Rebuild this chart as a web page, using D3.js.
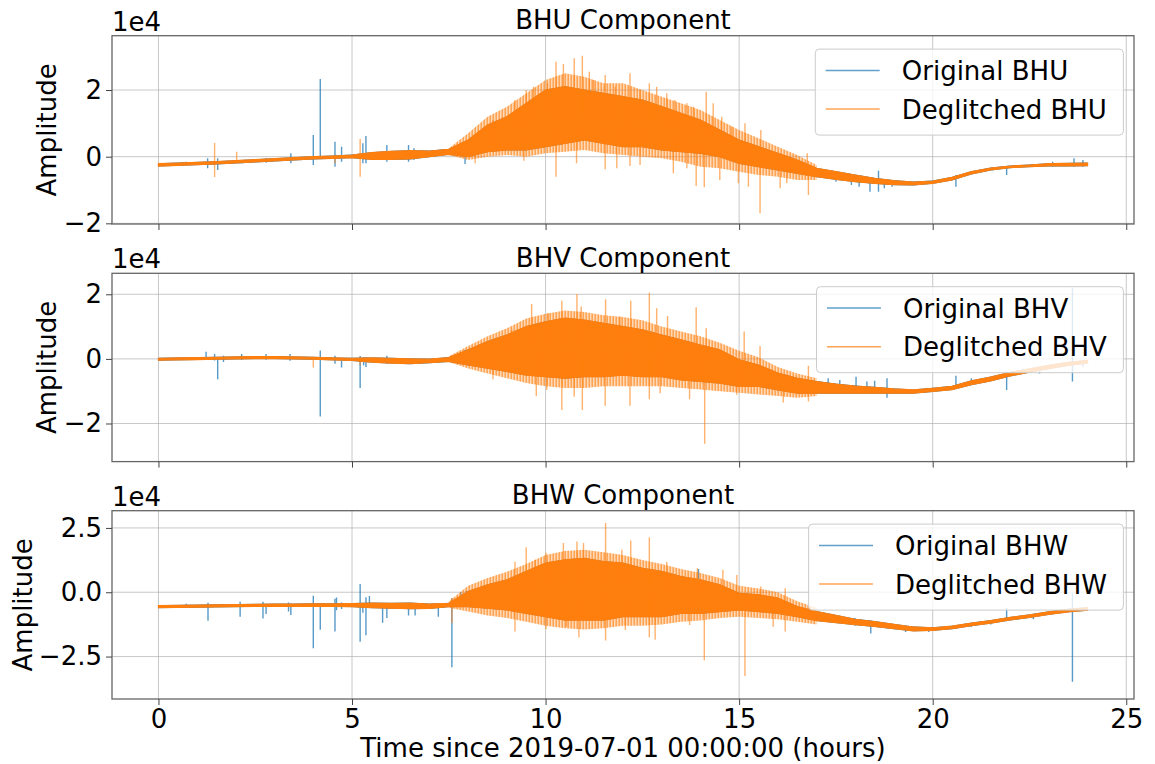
<!DOCTYPE html>
<html>
<head>
<meta charset="utf-8">
<script src="https://cdn.jsdelivr.net/npm/d3@7"></script>
<style>
  body { margin: 0; background: #fff; }
  svg { display: block; }
  text { font-family: "DejaVu Sans", sans-serif; fill: #000; }
</style>
</head>
<body>
<svg id="fig" width="1155" height="764"></svg>
<script>
// ---- Data (amplitudes in units of 1e4 counts, time in hours) ----

// sample times of the envelope knots
const hours = [0, 0.5, 1, 1.5, 2, 2.5, 3, 3.5, 4, 4.5, 5, 5.5, 6, 6.5, 7, 7.5, 8, 8.5, 9, 9.5,
  10, 10.5, 11, 11.5, 12, 12.5, 13, 13.5, 14, 14.5, 15, 15.5, 16, 16.5, 17, 17.5, 18, 18.5, 19, 19.5,
  20, 20.5, 21, 21.5, 22, 22.5, 23, 23.5, 24];
// sample times of the outer (frequent-peak) envelope during the active hours
const activeHours = [7.5, 8, 8.5, 9, 9.5, 10, 10.5, 11, 11.5, 12, 12.5, 13, 13.5, 14, 14.5, 15, 15.5, 16, 16.5, 17];

// BHU: lower / upper envelope of the deglitched trace (dense core)
const bhuLow = [-0.28, -0.26, -0.24, -0.22, -0.19, -0.16, -0.13, -0.10, -0.07, -0.05, -0.03, -0.08, -0.08, -0.07, 0.00, 0.07,
  0.00, 0.15, 0.20, 0.20, 0.30, 0.40, 0.50, 0.40, 0.30, 0.30, 0.20, 0.15, 0.10, 0.00, -0.20, -0.30, -0.40, -0.50, -0.60,
  -0.68, -0.75, -0.80, -0.84, -0.85, -0.80, -0.70, -0.52, -0.40, -0.33, -0.30, -0.28, -0.28, -0.27];
const bhuHigh = [-0.21, -0.19, -0.17, -0.15, -0.12, -0.09, -0.06, -0.03, 0.00, 0.02, 0.05, 0.12, 0.16, 0.18, 0.17, 0.22,
  0.50, 0.95, 1.20, 1.60, 2.00, 2.10, 2.00, 1.90, 1.80, 1.70, 1.50, 1.30, 1.10, 0.80, 0.50, 0.30, 0.10, -0.10, -0.35,
  -0.45, -0.55, -0.65, -0.72, -0.76, -0.73, -0.62, -0.45, -0.34, -0.28, -0.25, -0.21, -0.20, -0.19];
// BHU: reach of the frequent peaks around the core
const bhuOuterLow = [0.05, -0.10, 0.00, 0.05, 0.00, 0.10, 0.15, 0.20, 0.10, 0.05, 0.00, -0.05, -0.15, -0.30, -0.35, -0.45,
  -0.55, -0.60, -0.70, -0.70];
const bhuOuterHigh = [0.25, 0.70, 1.20, 1.50, 1.90, 2.30, 2.50, 2.40, 2.20, 2.20, 2.00, 1.80, 1.60, 1.40, 1.10, 0.80,
  0.55, 0.30, 0.05, -0.25];
// BHU: individual excursions kept after deglitching [time, from, to]
const bhuSpikes = [
  [1.45, -0.61, 0.41], [2.02, -0.18, 0.15], [4.56, -0.20, 0.05], [5.21, -0.60, 0.53],
  [8.18, 0.20, -0.20], [8.64, 0.50, 1.10], [9.21, 1.00, 1.70], [9.44, 0.60, -0.12], [9.50, 1.00, 2.00],
  [9.69, 1.00, 2.10], [10.05, 1.20, 2.20], [10.27, 1.20, 2.85], [10.27, 0.80, -0.60], [10.46, 1.20, 2.78],
  [10.74, 1.20, 2.95], [10.80, 0.80, -0.20], [10.95, 1.20, 3.03], [11.13, 1.20, 2.55], [11.24, 1.20, 2.30],
  [11.54, 1.10, 2.45], [11.54, 0.80, -0.38], [11.80, 1.10, 2.10], [11.84, 0.80, -0.35], [12.18, 1.00, 2.50],
  [12.18, 0.80, -0.28], [12.44, 1.00, 2.00], [12.44, 0.80, -0.25], [12.68, 1.00, 2.20], [12.87, 0.90, 2.10],
  [13.13, 0.90, 1.90], [13.30, 0.60, -0.50], [13.34, 0.80, 1.70], [13.65, 0.70, 1.60], [13.65, 0.50, -0.35],
  [13.82, 0.60, 1.50], [13.89, 0.40, -0.88], [14.10, 0.40, -0.92], [14.15, 0.50, 1.95], [14.33, 0.50, 1.60],
  [14.50, 0.30, -0.70], [14.55, 0.40, 1.20], [14.81, 0.30, 0.90], [14.98, 0.20, -0.80], [15.15, 0.20, 1.00],
  [15.24, 0.10, -0.90], [15.54, 0.00, -1.70], [15.56, 0.00, 0.80], [16.06, -0.10, -0.95], [16.23, -0.20, -0.80],
  [16.76, -0.30, 0.10], [16.79, -0.40, -1.15]];
// BHU: glitches removed by the deglitching [time, from, to]
const bhuGlitches = [
  [0.72, -0.25, -0.15], [1.27, -0.35, -0.05], [1.53, -0.40, -0.05], [2.15, -0.20, -0.10], [2.78, -0.18, -0.05],
  [3.42, -0.20, 0.10], [4.00, -0.25, 0.65], [4.18, -0.05, 2.33], [4.56, -0.30, 0.45], [4.73, -0.15, 0.30],
  [5.28, -0.20, 0.40], [5.36, -0.20, 0.62], [5.90, -0.15, 0.35], [6.46, -0.15, 0.35], [6.60, -0.10, 0.25],
  [7.92, -0.22, 0.20], [17.50, -0.75, -0.55], [17.90, -0.85, -0.60], [18.10, -0.90, -0.65], [18.38, -1.05, -0.64],
  [18.60, -1.05, -0.42], [18.75, -0.95, -0.70], [18.95, -0.90, -0.75], [20.60, -0.90, -0.55],
  [21.91, -0.55, -0.30], [23.10, -0.30, -0.15], [23.65, -0.30, -0.05], [23.88, -0.30, -0.10]];

// BHV
const bhvLow = [-0.04, -0.03, -0.02, -0.01, 0.00, 0.01, 0.01, 0.00, -0.01, -0.03, -0.05, -0.10, -0.13, -0.15, -0.12, -0.08,
  -0.19, -0.29, -0.39, -0.50, -0.55, -0.60, -0.55, -0.55, -0.50, -0.55, -0.55, -0.65, -0.70, -0.75, -0.85, -0.85, -0.96,
  -1.06, -1.06, -1.06, -1.06, -1.06, -1.06, -1.06, -1.01, -0.95, -0.80, -0.68, -0.53, -0.41, -0.30, -0.20, -0.13];
const bhvHigh = [0.02, 0.03, 0.04, 0.05, 0.06, 0.07, 0.07, 0.06, 0.05, 0.03, 0.02, 0.03, 0.02, 0.00, -0.01, 0.04,
  0.28, 0.54, 0.74, 1.00, 1.15, 1.26, 1.20, 1.10, 1.00, 0.90, 0.74, 0.59, 0.43, 0.28, -0.03, -0.19, -0.44,
  -0.60, -0.70, -0.78, -0.84, -0.88, -0.93, -0.96, -0.91, -0.85, -0.68, -0.56, -0.42, -0.31, -0.20, -0.11, -0.05];
const bhvOuterLow = [-0.10, -0.30, -0.45, -0.60, -0.75, -0.85, -0.90, -0.90, -0.85, -0.85, -0.85, -0.85, -0.90, -0.95,
  -1.00, -1.05, -1.10, -1.15, -1.20, -1.15];
const bhvOuterHigh = [0.08, 0.40, 0.70, 0.95, 1.25, 1.40, 1.50, 1.45, 1.35, 1.30, 1.20, 1.00, 0.85, 0.70, 0.50, 0.25,
  0.05, -0.25, -0.45, -0.60];
const bhvSpikes = [
  [4.00, -0.27, 0.07], [5.21, -0.20, 0.05],
  [8.64, 0.00, -0.63], [9.13, 0.30, 0.90], [9.64, 0.50, 1.70], [9.76, 0.20, -1.15], [10.03, 0.20, -0.96],
  [10.07, 0.50, 1.41], [10.42, 0.50, 1.80], [10.42, 0.20, -1.58], [10.74, 0.20, -1.17], [10.81, 0.50, 2.01],
  [10.92, 0.50, 1.62], [10.95, 0.20, -1.58], [11.54, 0.20, -1.45], [11.55, 0.50, 1.85], [11.92, 0.40, 1.31],
  [12.18, 0.20, -1.45], [12.20, 0.40, 1.80], [12.68, 0.30, 2.05], [12.68, 0.20, -1.25], [12.87, 0.30, 1.57],
  [12.96, 0.10, -1.06], [13.15, 0.20, 1.33], [13.72, 0.00, -1.25], [13.89, 0.00, 1.60], [14.11, -0.10, -2.63],
  [14.15, -0.10, 0.95], [14.94, -0.40, -1.11], [15.13, -0.40, 0.85], [15.54, -0.50, 0.40], [16.14, -0.60, -1.35],
  [16.79, -0.80, -0.21], [16.79, -0.80, -1.32]];
const bhvGlitches = [
  [1.23, 0.00, 0.22], [1.45, -0.05, 0.15], [1.53, -0.63, 0.02], [1.68, -0.10, 0.10], [2.15, -0.03, 0.15],
  [2.78, -0.03, 0.15], [3.40, -0.06, 0.15], [4.18, -1.78, 0.26], [4.56, -0.15, 0.10], [4.73, -0.27, -0.06],
  [5.21, -0.90, 0.09], [5.30, -0.20, 0.05], [5.36, -0.25, 0.05], [5.90, -0.15, 0.10], [7.92, 0.00, 0.28],
  [17.30, -0.95, -0.60], [17.60, -0.98, -0.65], [18.02, -0.96, -0.55], [18.30, -0.95, -0.70], [18.50, -0.98, -0.68],
  [18.82, -1.20, -0.60], [20.60, -0.93, -0.52], [21.00, -0.80, -0.60], [21.91, -0.96, -0.39], [22.76, -0.45, -0.30],
  [23.61, -0.70, 2.20], [23.88, -0.25, -0.05]];

// BHW
const bhwLow = [-0.60, -0.59, -0.58, -0.57, -0.56, -0.55, -0.55, -0.55, -0.55, -0.55, -0.56, -0.60, -0.62, -0.64, -0.63, -0.56,
  -0.56, -0.62, -0.69, -0.82, -0.95, -1.08, -1.08, -1.08, -0.95, -0.95, -0.95, -0.82, -0.82, -0.75, -0.69, -0.75, -0.82,
  -0.95, -1.10, -1.18, -1.26, -1.33, -1.42, -1.50, -1.48, -1.42, -1.30, -1.20, -1.08, -0.98, -0.86, -0.76, -0.70];
const bhwHigh = [-0.52, -0.51, -0.50, -0.49, -0.48, -0.47, -0.46, -0.46, -0.45, -0.45, -0.44, -0.42, -0.43, -0.42, -0.46, -0.43,
  0.03, 0.29, 0.48, 0.81, 1.13, 1.26, 1.32, 1.19, 1.13, 0.93, 0.81, 0.61, 0.48, 0.29, -0.04, -0.10, -0.23,
  -0.56, -0.75, -0.90, -1.05, -1.14, -1.25, -1.35, -1.38, -1.32, -1.20, -1.10, -0.98, -0.88, -0.76, -0.66, -0.60];
const bhwOuterLow = [-0.60, -0.75, -0.90, -1.00, -1.15, -1.30, -1.40, -1.45, -1.40, -1.30, -1.30, -1.25, -1.15, -1.10,
  -1.00, -0.95, -1.00, -1.05, -1.15, -1.25];
const bhwOuterHigh = [-0.35, 0.25, 0.55, 0.80, 1.10, 1.45, 1.60, 1.65, 1.55, 1.45, 1.25, 1.10, 0.90, 0.75, 0.55, 0.25,
  0.15, 0.00, -0.35, -0.60];
const bhwSpikes = [
  [7.58, -0.23, -1.20],
  [9.21, 0.00, 1.19], [9.21, -0.20, -1.53], [9.50, 0.20, 1.75], [9.73, 0.20, 1.26], [10.01, 0.30, 1.54],
  [10.01, -0.20, -1.44], [10.46, 0.30, 1.91], [10.54, -0.20, -1.34], [10.81, 0.30, 1.97], [10.86, -0.20, -1.75],
  [10.98, 0.30, 1.91], [11.55, 0.30, 2.69], [11.55, -0.20, -1.88], [11.97, 0.30, 1.65], [12.06, -0.20, -1.47],
  [12.20, 0.20, 2.01], [12.68, 0.20, 2.14], [12.68, -0.20, -1.75], [12.83, -0.20, -1.85], [13.13, 0.10, 1.19],
  [13.72, -0.20, -1.27], [13.92, 0.00, 0.93], [14.10, -0.30, -2.64], [14.58, -0.20, 0.87], [14.94, -0.30, 0.67],
  [15.15, -0.40, -3.26], [15.56, -0.40, 0.22], [15.88, -0.50, -1.34], [16.19, -0.50, 0.16], [16.19, -0.50, -1.53]];
const bhwGlitches = [
  [0.72, -0.58, -0.45], [1.28, -1.11, -0.41], [2.11, -0.95, -0.37], [2.70, -1.02, -0.37], [2.78, -0.85, -0.45],
  [3.36, -0.75, -0.40], [3.42, -0.88, -0.45], [4.00, -2.18, -0.14], [4.18, -1.46, -0.45], [4.56, -1.53, -0.25],
  [4.60, -0.70, -0.20], [4.73, -0.65, -0.40], [5.21, -1.92, 0.32], [5.28, -0.80, -0.45], [5.36, -1.67, -0.19],
  [5.45, -0.60, -0.15], [5.79, -1.19, -0.57], [5.90, -1.00, -0.50], [6.46, -0.90, -0.60], [6.63, -0.90, -0.60],
  [7.23, -0.95, -0.55], [7.58, -2.92, -0.23], [7.81, -0.30, 0.00], [7.95, -0.20, 0.05], [13.95, 0.10, 0.90],
  [17.99, -1.30, -1.00], [18.40, -1.60, -1.10], [19.30, -1.55, -1.35], [19.90, -1.55, -1.38], [21.00, -1.35, -1.20],
  [21.50, -1.25, -1.10], [21.91, -1.00, -0.60], [22.60, -1.05, -0.90], [23.61, -3.48, -0.04]];

const componentNames = ["BHU", "BHV", "BHW"];
const xTicks = [0, 5, 10, 15, 20, 25];
const yTicks = [[-2, 0, 2], [-2, 0, 2], [-2.5, 0, 2.5]];
const yDomains = [[-2.02, 3.63], [-3.18, 2.65], [-4.15, 3.17]];

// ---- Layout ----
const svg = d3.select("#fig");
const left = 112, right = 1134;
const panelTops = [35.7, 273.3, 510.7];
const panelH = 188.3;
const FS = 26;
const BLUE = "#1f77b4", ORANGE = "#ff7f0e";

const x = d3.scaleLinear().domain([-1.2, 25.2]).range([left, right]);

// vertical-stroke texture used to fill the band of frequent peaks
const defs = svg.append("defs");
const pat = defs.append("pattern").attr("id", "peaks").attr("patternUnits", "userSpaceOnUse")
  .attr("width", 3).attr("height", 8);
pat.append("rect").attr("width", 3).attr("height", 8).attr("fill", ORANGE).attr("fill-opacity", 0.3);
pat.append("rect").attr("x", 0.5).attr("width", 1.4).attr("height", 8).attr("fill", ORANGE).attr("fill-opacity", 0.65);

const series = [
  { low: bhuLow, high: bhuHigh, outLow: bhuOuterLow, outHigh: bhuOuterHigh, spikes: bhuSpikes, glitches: bhuGlitches },
  { low: bhvLow, high: bhvHigh, outLow: bhvOuterLow, outHigh: bhvOuterHigh, spikes: bhvSpikes, glitches: bhvGlitches },
  { low: bhwLow, high: bhwHigh, outLow: bhwOuterLow, outHigh: bhwOuterHigh, spikes: bhwSpikes, glitches: bhwGlitches }
];

const minus = s => s.replace("-", "\u2212");

series.forEach((s, i) => {
  const top = panelTops[i], bottom = top + panelH;
  const y = d3.scaleLinear().domain(yDomains[i]).range([bottom, top]);
  const g = svg.append("g");

  g.append("clipPath").attr("id", "clip" + i)
    .append("rect").attr("x", left).attr("y", top).attr("width", right - left).attr("height", panelH);

  // grid
  const grid = g.append("g").attr("stroke", "#b0b0b0").attr("stroke-opacity", 0.7).attr("stroke-width", 1);
  xTicks.forEach(t => grid.append("line").attr("x1", x(t)).attr("x2", x(t)).attr("y1", top).attr("y2", bottom));
  yTicks[i].forEach(v => grid.append("line").attr("x1", left).attr("x2", right).attr("y1", y(v)).attr("y2", y(v)));

  const plot = g.append("g").attr("clip-path", `url(#clip${i})`);
  const rows = hours.map((t, k) => ({ t, lo: s.low[k], hi: s.high[k] }));
  const outer = activeHours.map((t, k) => ({ t, lo: s.outLow[k], hi: s.outHigh[k] }));
  const band = d3.area().x(d => x(d.t)).y0(d => y(d.lo)).y1(d => y(d.hi));

  // original trace (glitches included)
  plot.append("path").datum(rows).attr("d", band).attr("fill", BLUE).attr("stroke", BLUE).attr("stroke-width", 1);
  plot.append("g").selectAll("line").data(s.glitches).join("line")
    .attr("x1", d => x(d[0])).attr("x2", d => x(d[0]))
    .attr("y1", d => y(d[1])).attr("y2", d => y(d[2]))
    .attr("stroke", BLUE).attr("stroke-opacity", 0.75).attr("stroke-width", 1.4);

  // deglitched trace: frequent-peak band, dense core, isolated peaks
  plot.append("path").datum(outer).attr("d", band).attr("fill", "url(#peaks)");
  plot.append("path").datum(rows).attr("d", band).attr("fill", ORANGE).attr("stroke", ORANGE).attr("stroke-width", 1.2);
  plot.append("g").selectAll("line").data(s.spikes).join("line")
    .attr("x1", d => x(d[0])).attr("x2", d => x(d[0]))
    .attr("y1", d => y(d[1])).attr("y2", d => y(d[2]))
    .attr("stroke", ORANGE).attr("stroke-opacity", 0.6).attr("stroke-width", 1.4);

  // frame
  g.append("rect").attr("x", left).attr("y", top).attr("width", right - left).attr("height", panelH)
    .attr("fill", "none").attr("stroke", "#666").attr("stroke-width", 1.3);

  // x axis
  const xa = g.append("g").attr("transform", `translate(0,${bottom})`)
    .call(d3.axisBottom(x).tickValues(xTicks).tickSize(6).tickPadding(5)
      .tickFormat(i === 2 ? d3.format("d") : () => ""));
  xa.select(".domain").remove();
  xa.selectAll("line").attr("stroke", "#444");
  xa.selectAll("text").attr("font-size", FS).attr("dy", "0.71em").attr("fill", "#000");

  // y axis
  const fmt = i === 2 ? d3.format(".1f") : d3.format("d");
  const ya = g.append("g").attr("transform", `translate(${left},0)`)
    .call(d3.axisLeft(y).tickValues(yTicks[i]).tickSize(6).tickPadding(4).tickFormat(v => minus(fmt(v))));
  ya.select(".domain").remove();
  ya.selectAll("line").attr("stroke", "#444");
  ya.selectAll("text").attr("font-size", FS).attr("fill", "#000");

  // offset text, title, y label
  g.append("text").attr("x", left).attr("y", top - 5).attr("font-size", FS).text("1e4");
  g.append("text").attr("x", (left + right) / 2).attr("y", top - 6.7).attr("text-anchor", "middle")
    .attr("font-size", FS).text(`${componentNames[i]} Component`);
  const yl = i === 2 ? 32 : 56;
  g.append("text").attr("transform", `translate(${yl},${(top + bottom) / 2}) rotate(-90)`)
    .attr("text-anchor", "middle").attr("font-size", FS).text("Amplitude");

  // legend
  const lg = g.append("g");
  const box = lg.append("rect").attr("rx", 4).attr("ry", 4)
    .attr("fill", "#fff").attr("fill-opacity", 0.8).attr("stroke", "#cccccc").attr("stroke-width", 1);
  const labels = [[`Original ${componentNames[i]}`, BLUE], [`Deglitched ${componentNames[i]}`, ORANGE]];
  const texts = labels.map(l => lg.append("text").attr("font-size", FS).text(l[0]));
  const tw = d3.max(texts, t => t.node().getComputedTextLength());
  const bw = 86.5 + tw + 16.5, bh = 86;
  const bx = right - 10.6 - bw, by = top + 13.4;
  box.attr("x", bx).attr("y", by).attr("width", bw).attr("height", bh);
  labels.forEach((l, k) => {
    const cy = by + 21.4 + k * 38.6;
    lg.append("line").attr("x1", bx + 10.4).attr("x2", bx + 64.4).attr("y1", cy).attr("y2", cy)
      .attr("stroke", l[1]).attr("stroke-opacity", 0.7).attr("stroke-width", 1.5);
    texts[k].attr("x", bx + 86.5).attr("y", cy + 0.365 * FS);
  });
});

// shared x label
svg.append("text").attr("x", (left + right) / 2).attr("y", 757).attr("text-anchor", "middle")
  .attr("font-size", FS).text("Time since 2019-07-01 00:00:00 (hours)");
</script>
</body>
</html>
